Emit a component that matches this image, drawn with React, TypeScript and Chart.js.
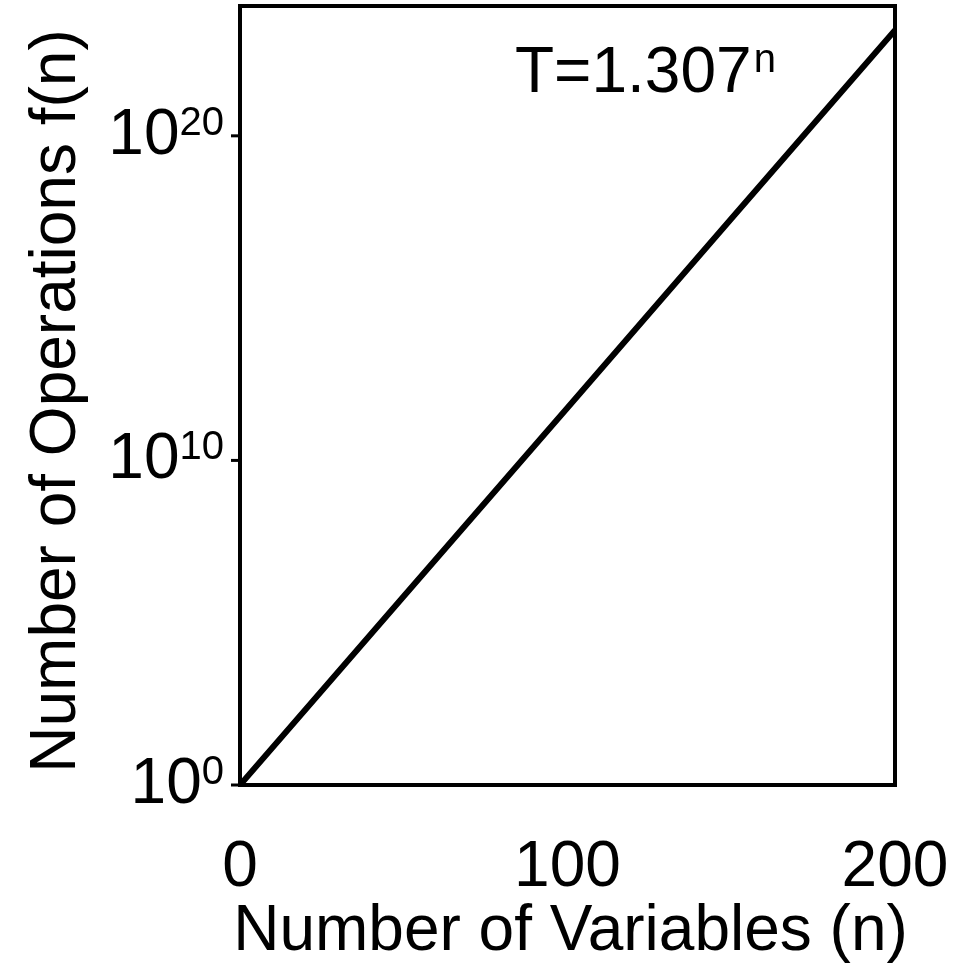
import React, { useEffect, useRef } from "react";
import { Chart, registerables } from "chart.js";

Chart.register(...registerables);

// Data
const nValues = [0, 50, 100, 150, 200];
const opsValues = [1, 6.5e5, 4.2e11, 2.8e17, 1.8e23];
const xTickValues = [0, 100, 200];
const yTickExponents = [0, 10, 20];
const xTitle = "Number of Variables (n)";
const yTitle = "Number of Operations f(n)";
const annotationBase = "T=1.307";
const annotationSup = "n";

const FONT = '"Liberation Sans", Arial, Helvetica, sans-serif';

const drawPlugin = {
  id: "customDraw",
  afterDatasetsDraw(chart: any) {
    const { ctx, chartArea, scales } = chart;
    const { left, right, top, bottom } = chartArea;
    const xs = scales.x;
    const ys = scales.y;
    ctx.save();
    ctx.fillStyle = "#000";
    ctx.strokeStyle = "#000";

    // frame
    ctx.lineWidth = 4;
    ctx.lineJoin = "miter";
    ctx.strokeRect(left, top, right - left, bottom - top);

    // y tick marks + labels
    ctx.lineWidth = 3;
    yTickExponents.forEach((e) => {
      const y = ys.getPixelForValue(Math.pow(10, e));
      ctx.beginPath();
      ctx.moveTo(left - 9, y);
      ctx.lineTo(left, y);
      ctx.stroke();

      ctx.textBaseline = "alphabetic";
      ctx.textAlign = "left";
      ctx.font = `64px ${FONT}`;
      const mainW = ctx.measureText("10").width;
      ctx.font = `40px ${FONT}`;
      const supW = ctx.measureText(String(e)).width;
      const startX = 224 - mainW - supW;
      ctx.font = `64px ${FONT}`;
      ctx.fillText("10", startX, y + 18);
      ctx.font = `40px ${FONT}`;
      ctx.fillText(String(e), startX + mainW, y - 1);
    });

    // x tick labels
    ctx.font = `64px ${FONT}`;
    ctx.textAlign = "center";
    ctx.textBaseline = "alphabetic";
    xTickValues.forEach((v) => {
      const x = xs.getPixelForValue(v);
      ctx.fillText(String(v), x, 886);
    });

    // x title
    ctx.fillText(xTitle, (left + right) / 2 + 3, 950);

    // y title (rotated)
    ctx.save();
    ctx.translate(75, 401);
    ctx.rotate(-Math.PI / 2);
    ctx.textAlign = "center";
    ctx.fillText(yTitle, 0, 0);
    ctx.restore();

    // annotation
    ctx.textAlign = "left";
    ctx.font = `64px ${FONT}`;
    ctx.fillText(annotationBase, 515, 92);
    const bw = ctx.measureText(annotationBase).width;
    ctx.font = `40px ${FONT}`;
    ctx.fillText(annotationSup, 515 + bw + 2, 72);

    ctx.restore();
  },
};

export default function App() {
  const canvasRef = useRef<HTMLCanvasElement | null>(null);

  useEffect(() => {
    const canvas = canvasRef.current;
    if (!canvas) return;
    const chart = new Chart(canvas, {
      type: "line",
      data: {
        datasets: [
          {
            data: nValues.map((n, i) => ({ x: n, y: opsValues[i] })),
            borderColor: "#000",
            borderWidth: 6,
            pointRadius: 0,
            tension: 0,
            fill: false,
          },
        ],
      },
      options: {
        animation: false,
        responsive: false,
        devicePixelRatio: 1,
        layout: { padding: { left: 240, top: 6, right: 73, bottom: 178 } },
        plugins: {
          legend: { display: false },
          tooltip: { enabled: false },
          title: { display: false },
        },
        scales: {
          x: {
            type: "linear",
            min: 0,
            max: 200,
            grid: { display: false },
            border: { display: false },
            ticks: { display: false },
            afterFit: (s: any) => {
              s.height = 0;
            },
          },
          y: {
            type: "logarithmic",
            min: 1,
            max: 1e24,
            grid: { display: false },
            border: { display: false },
            ticks: { display: false },
            afterFit: (s: any) => {
              s.width = 0;
            },
          },
        },
      },
      plugins: [drawPlugin],
    });
    return () => chart.destroy();
  }, []);

  return (
    <div style={{ position: "absolute", left: 0, top: 0, width: 968, height: 963, background: "#fff" }}>
      <canvas ref={canvasRef} width={968} height={963} style={{ display: "block" }} />
    </div>
  );
}
